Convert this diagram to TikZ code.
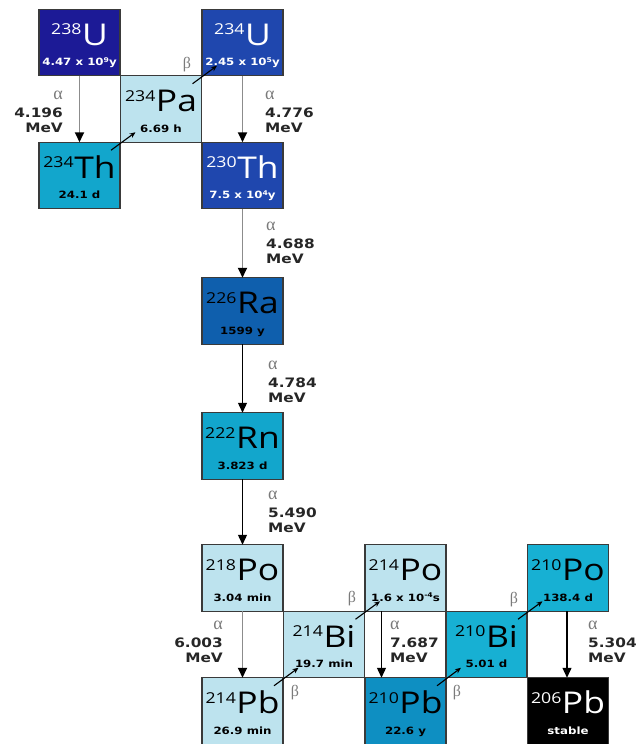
\documentclass[tikz,border=0pt]{standalone}
\usepackage{fontspec}
\usepackage{graphicx}
\usetikzlibrary{arrows.meta,calc}
\newfontfamily\symf{Open Sans}
\newfontfamily\lbf{DejaVu Sans}
\newfontfamily\grk{Liberation Serif}
\definecolor{boxline}{HTML}{3A3A3A}
\definecolor{cU}{HTML}{1C1A96}
\definecolor{cUb}{HTML}{1F47AE}
\definecolor{cRa}{HTML}{0F5FAD}
\definecolor{cCy}{HTML}{12A6CC}
\definecolor{cLt}{HTML}{BDE3EE}
\definecolor{cPb}{HTML}{0E8FC2}
\definecolor{cBi}{HTML}{17B0D3}
\definecolor{cGr}{HTML}{7A7A7A}
\definecolor{cArr}{HTML}{8C8C8C}
\newcommand\sx[1]{\scalebox{1.18}[1]{#1}}
\newcommand\isotxt[2]{\sx{\symf{\fontsize{15}{15}\selectfont\raisebox{10.5pt}{#1}}\kern0.5pt{\fontsize{30}{30}\selectfont #2}}}
\newcommand\hltxt[1]{\sx{\lbf\bfseries\fontsize{10}{10}\selectfont #1}}
\newcommand\ex[1]{\raisebox{3.5pt}{\fontsize{6.5}{6.5}\selectfont #1}}
\newcommand\isobox[8]{%
  \node[isobx, fill=#4] (#1) at (#2,#3) {};
  \node[anchor=base, text=#5, inner sep=0pt] (#1s) at ($(#1.north)+(0,36)$) {\isotxt{#6}{#7}};
  \node[anchor=base, text=#5, inner sep=0pt] (#1h) at ($(#1.south)+(0,-10)$) {\hltxt{#8}};}
\newcommand\alab[5]{%
  \node[alpha lab, anchor=base #4] (#1a) at (#2,#3-18) {α};
  \node[num lab, anchor=base #4] (#1e) at (#2,#3) {\sx{#5}};
  \node[num lab, anchor=base #4] (#1m) at (#2,#3+15.5) {\sx{MeV}};}
\begin{document}
\begin{tikzpicture}[x=1pt,y=-1pt,
  isobx/.style={draw=boxline, line width=1.1pt, minimum width=81pt, minimum height=66.5pt, inner sep=0pt, outer sep=0pt},
  alpha lab/.style={inner sep=0pt, text=cGr, font=\grk\fontsize{18}{18}\selectfont},
  num lab/.style={inner sep=0pt, text=black!85, font=\lbf\bfseries\fontsize{13}{13}\selectfont},
  beta lab/.style={inner sep=0pt, text=cGr, font=\grk\fontsize{16}{16}\selectfont},
  agray/.style={draw=cArr, line width=1.9pt, -{Triangle[length=10pt,width=9pt,color=black]}},
  ablack/.style={draw=black, line width=1.3pt, -{Triangle[length=10pt,width=9pt,color=black]}},
  bt/.style={draw=black, line width=1.1pt, -{Stealth[length=6pt,width=5pt]}}]
\useasboundingbox (0,0) rectangle (637,744);
% boxes
\isobox{u238}{79.5}{42.5}{cU}{white}{238}{U}{4.47 x 10\ex{9}y}
\isobox{u234}{242.5}{42.5}{cUb}{white}{234}{U}{2.45 x 10\ex{5}y}
\isobox{pa234}{161}{109}{cLt}{black}{234}{Pa}{6.69 h}
\isobox{th234}{79.5}{175.5}{cCy}{black}{234}{Th}{24.1 d}
\isobox{th230}{242.5}{175.5}{cUb}{white}{230}{Th}{7.5 x 10\ex{4}y}
\isobox{ra226}{242.5}{311}{cRa}{black}{226}{Ra}{1599 y}
\isobox{rn222}{242.5}{446}{cCy}{black}{222}{Rn}{3.823 d}
\isobox{po218}{242.5}{578}{cLt}{black}{218}{Po}{3.04 min}
\isobox{bi214}{324}{644.5}{cLt}{black}{214}{Bi}{19.7 min}
\isobox{pb214}{242.5}{711}{cLt}{black}{214}{Pb}{26.9 min}
\isobox{po214}{405.5}{578}{cLt}{black}{214}{Po}{1.6 x 10\ex{-4}s}
\isobox{pb210}{405.5}{711}{cPb}{black}{210}{Pb}{22.6 y}
\isobox{bi210}{486.5}{644.5}{cBi}{black}{210}{Bi}{5.01 d}
\isobox{po210}{568}{578}{cBi}{black}{210}{Po}{138.4 d}
\isobox{pb206}{568}{711}{black}{white}{206}{Pb}{stable}
% alpha decays
\draw[agray] (u238.south) -- (th234.north);
\draw[agray] (u234.south) -- (th230.north);
\draw[agray] (th230.south) -- (ra226.north);
\draw[ablack] (ra226.south) -- (rn222.north);
\draw[ablack] (rn222.south) -- (po218.north);
\draw[agray] (po218.south) -- (pb214.north);
\draw[ablack] ($(po214.south)+(-24,0)$) -- ($(pb210.north)+(-24,0)$);
\draw[ablack] ($(po210.south)+(-1,0)$) -- ($(pb206.north)+(-1,0)$);
% beta decays
\draw[bt] ($(th234.north east)+(-9,8)$) -- ($(pa234.south west)+(15,-10)$);
\draw[bt] ($(pa234.north east)+(-9,8)$) -- ($(u234.south west)+(15,-10)$);
\draw[bt] ($(pb214.north east)+(-9,8)$) -- ($(bi214.south west)+(15,-10)$);
\draw[bt] ($(bi214.north east)+(-9,8)$) -- ($(po214.south west)+(15,-10)$);
\draw[bt] ($(pb210.north east)+(-9,8)$) -- ($(bi210.south west)+(15,-10)$);
\draw[bt] ($(bi210.north east)+(-9,8)$) -- ($(po210.south west)+(15,-10)$);
% beta labels
\node[beta lab] (b1) at (187,65) {β};
\node[beta lab] (b2) at (295,693) {β};
\node[beta lab] (b3) at (352,599) {β};
\node[beta lab] (b4) at (457,693) {β};
\node[beta lab] (b5) at (514,600) {β};
% alpha labels
\alab{l1}{63}{117}{east}{4.196}
\alab{l2}{265}{117}{west}{4.776}
\alab{l3}{266}{248}{west}{4.688}
\alab{l4}{268}{387}{west}{4.784}
\alab{l5}{268}{517}{west}{5.490}
\alab{l6}{223}{647}{east}{6.003}
\alab{l7}{390}{647}{west}{7.687}
\alab{l8}{588}{647}{west}{5.304}
\end{tikzpicture}
\end{document}
